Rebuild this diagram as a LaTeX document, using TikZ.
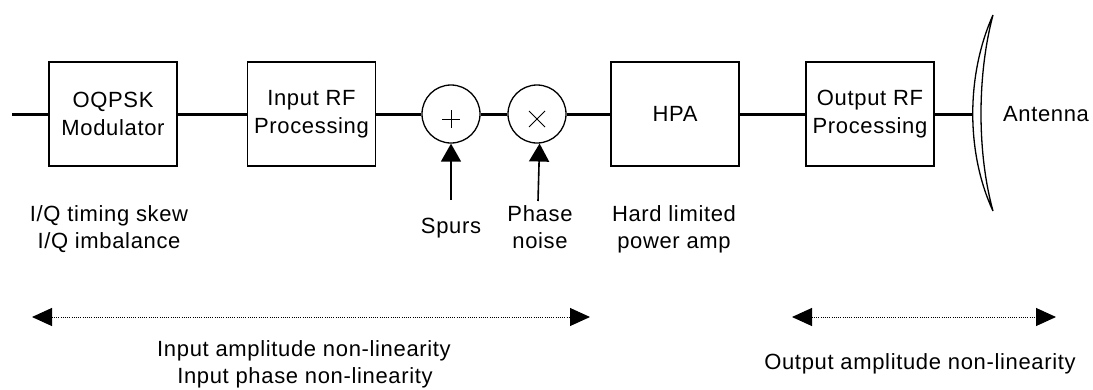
\documentclass[tikz,border=0pt]{standalone}
\usepackage{fontspec}
\setmainfont{Liberation Sans}[LetterSpace=3]
\usetikzlibrary{arrows.meta,calc}
\begin{document}
\begin{tikzpicture}[x=1pt,y=-1pt,
  every node/.style={font=\fontsize{22}{27.5}\selectfont},
  blk/.style={draw,line width=1.3pt,minimum width=128pt,minimum height=104pt,inner sep=0pt,align=center},
  sumnode/.style={draw,circle,line width=1.3pt,minimum size=58pt,inner sep=0pt},
  sig/.style={line width=3pt},
  feed/.style={line width=1.6pt,-{Triangle[length=18pt,width=20pt]}},
  span/.style={line width=1pt,dash pattern=on 1pt off 1.2pt,{Triangle[length=20pt,width=18pt]}-{Triangle[length=20pt,width=18pt]}},
  lbl/.style={anchor=base,inner sep=0pt},
  sym/.style={line width=1pt}]
\useasboundingbox (0,0) rectangle (1093,389);

% blocks
\node[blk] (mod) at (113,114) {OQPSK\\Modulator};
\node[blk] (irf) at (311.5,114) {Input RF\\Processing};
\node[sumnode] (plus) at (451,114) {};
\node[sumnode] (mult) at (537,114) {};
\node[blk] (hpa) at (675,114) {HPA};
\node[blk] (orf) at (870,114) {Output RF\\Processing};
\coordinate (in) at (12,114);
\coordinate (ant) at (974,114);

% signal path
\draw[sig] (in) -- (mod.west);
\draw[sig] (mod.east) -- (irf.west);
\draw[sig] (irf.east) -- (plus.west);
\draw[sig] (plus.east) -- (mult.west);
\draw[sig] (mult.east) -- (hpa.west);
\draw[sig] (hpa.east) -- (orf.west);
\draw[sig] (orf.east) -- (ant);

% symbols in circles
\draw[sym] ($(plus)+(-9,5)$) -- ($(plus)+(9,5)$) ($(plus)+(0,-4)$) -- ($(plus)+(0,14)$);
\draw[sym] ($(mult)+(-8,-3)$) -- ($(mult)+(8,13)$) ($(mult)+(-8,13)$) -- ($(mult)+(8,-3)$);

% antenna
\draw[line width=1.3pt,fill=white] (993,15) .. controls (966,75) and (966,153) .. (993,211)
   .. controls (977,153) and (977,75) .. (993,15) -- cycle;
\node[lbl] (antl) at (1046,121) {Antenna};

% impairment inputs
\coordinate (sp0) at (451,200);
\coordinate (pn0) at (538,201);
\draw[feed] (sp0) -- (plus.south);
\draw[feed] (pn0) -- (mult.-85);

% labels
\node[lbl] (iq1) at (109,221) {I/Q timing skew};
\node[lbl] (iq2) at (109,248) {I/Q imbalance};
\node[lbl] (spurs) at (451,233) {Spurs};
\node[lbl] (pn1) at (540,221) {Phase};
\node[lbl] (pn2) at (540,248) {noise};
\node[lbl] (hl1) at (674,221) {Hard limited};
\node[lbl] (hl2) at (674,248) {power amp};

% spans
\coordinate (l0) at (32,317);
\coordinate (l1) at (590,317);
\coordinate (r0) at (792,317);
\coordinate (r1) at (1056,317);
\draw[span] (l0) -- (l1);
\draw[span] (r0) -- (r1);
\node[lbl] (ia1) at (304,356) {Input amplitude non-linearity};
\node[lbl] (ia2) at (305,383) {Input phase non-linearity};
\node[lbl] (oa) at (920,369) {Output amplitude non-linearity};
\end{tikzpicture}
\end{document}
